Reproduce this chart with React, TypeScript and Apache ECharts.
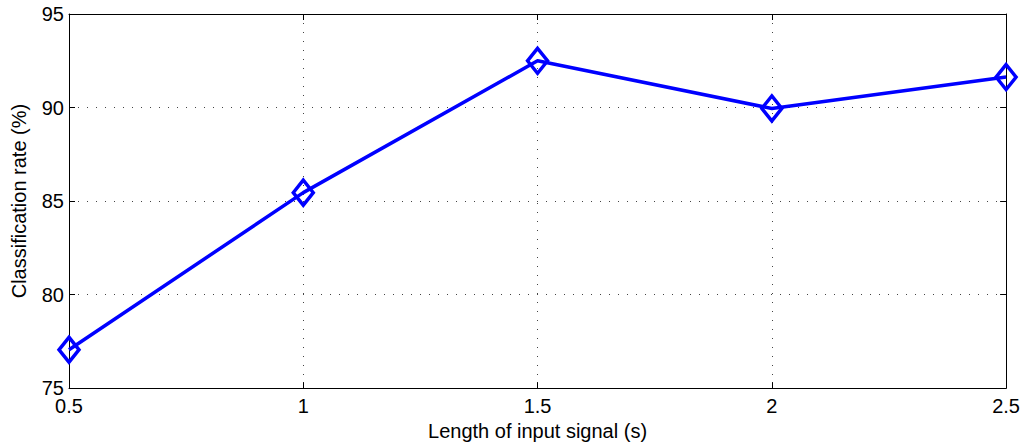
import React, { useEffect, useRef } from "react";
import * as echarts from "echarts";

const xValues = [0.5, 1, 1.5, 2, 2.5];
const rates = [77.05, 85.45, 92.5, 89.95, 91.63];
const xTicks = [0.5, 1, 1.5, 2, 2.5];
const yTicks = [75, 80, 85, 90, 95];

export default function App() {
  const ref = useRef<HTMLDivElement>(null);
  useEffect(() => {
    if (!ref.current) return;
    const chart = echarts.init(ref.current, null, { renderer: "svg" });
    const font = "'Liberation Sans', Arial, Helvetica, sans-serif";
    const grid = { left: 69, right: 16, top: 14, bottom: 56 };
    const axisLine = { show: true, lineStyle: { color: "#000", width: 1 } };
    const tick = { show: true, inside: true, length: 6, lineStyle: { color: "#000", width: 1 } };
    const split = { show: true, lineStyle: { color: "#444", type: [1, 8], width: 1 } };
    chart.setOption({
      animation: false,
      backgroundColor: "#fff",
      grid,
      xAxis: [
        {
          type: "value",
          min: 0.5,
          max: 2.5,
          interval: 0.5,
          position: "bottom",
          axisLine,
          axisTick: tick,
          splitLine: split,
          axisLabel: {
            color: "#000",
            fontSize: 20,
            fontFamily: font,
            margin: 8,
            formatter: (v: number) => (xTicks.includes(v) ? String(v) : ""),
          },
          name: "Length of input signal (s)",
          nameLocation: "middle",
          nameGap: 30,
          nameTextStyle: { color: "#000", fontSize: 20, fontFamily: font },
        },
        {
          type: "value",
          min: 0.5,
          max: 2.5,
          interval: 0.5,
          position: "top",
          axisLine,
          axisTick: tick,
          splitLine: { show: false },
          axisLabel: { show: false },
        },
      ],
      yAxis: [
        {
          type: "value",
          min: 75,
          max: 95,
          interval: 5,
          position: "left",
          axisLine,
          axisTick: tick,
          splitLine: split,
          axisLabel: {
            color: "#000",
            fontSize: 20,
            fontFamily: font,
            margin: 5,
            formatter: (v: number) => (yTicks.includes(v) ? String(v) : ""),
          },
          name: "Classification rate (%)",
          nameLocation: "middle",
          nameGap: 40,
          nameTextStyle: { color: "#000", fontSize: 20, fontFamily: font },
        },
        {
          type: "value",
          min: 75,
          max: 95,
          interval: 5,
          position: "right",
          axisLine,
          axisTick: tick,
          splitLine: { show: false },
          axisLabel: { show: false },
        },
      ],
      series: [
        {
          type: "line",
          data: xValues.map((x, i) => [x, rates[i]]),
          lineStyle: { color: "#0000ff", width: 3.5 },
          symbol: "diamond",
          symbolSize: [20, 25],
          showSymbol: true,
          itemStyle: { color: "rgba(0,0,0,0)", borderColor: "#0000ff", borderWidth: 3.5 },
          clip: false,
          z: 5,
        },
      ],
    });
    return () => chart.dispose();
  }, []);
  return (
    <div
      ref={ref}
      style={{ position: "absolute", left: 0, top: 0, width: 1023, height: 446 }}
    />
  );
}
